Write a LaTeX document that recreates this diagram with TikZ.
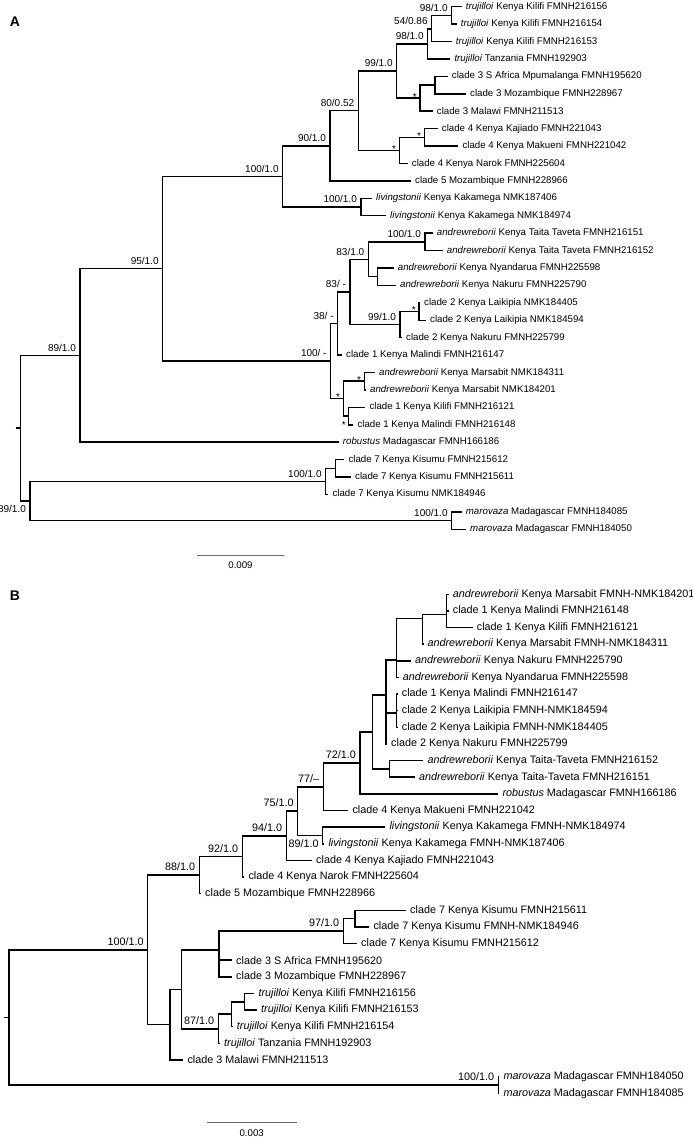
\documentclass[tikz,border=0pt]{standalone}
\usepackage{fontspec}
\setmainfont{Liberation Sans}
\usepackage{tikz}

\tikzset{
  branch/.style={line width=1.55pt},
  leaf/.style={font=\fontsize{9.7}{11}\selectfont, inner sep=2pt},
  support/.style={font=\fontsize{10}{12}\selectfont, inner sep=2.5pt},
  astx/.style={font=\fontsize{10}{12}\selectfont, inner sep=1pt, yshift=1.5pt},
  leafb/.style={font=\fontsize{10.8}{13}\selectfont, inner sep=2pt},
  supportb/.style={font=\fontsize{10.8}{13}\selectfont, inner sep=2.5pt},
  scalebar/.style={line width=1pt, black!60},
  panel/.style={font=\bfseries\fontsize{14}{16}\selectfont}
}

\begin{document}
\begin{tikzpicture}[x=1pt, y=-1pt, label distance=2pt]
\useasboundingbox (0,0) rectangle (693,1140);
\clip (0,0) rectangle (693,1140);
% panel A
\node [panel] (pA) at (15,22) {A};
% A leaves
\coordinate [label={[leaf]right:{\textit{trujilloi} Kenya Kilifi FMNH216156}}] (a1) at (461.7,6.7);
\coordinate [label={[leaf]right:{\textit{trujilloi} Kenya Kilifi FMNH216154}}] (a2) at (456.7,24.1);
\coordinate [label={[leaf]right:{\textit{trujilloi} Kenya Kilifi FMNH216153}}] (a3) at (451.7,41.5);
\coordinate [label={[leaf]right:{\textit{trujilloi} Tanzania FMNH192903}}] (a4) at (450.3,59.0);
\coordinate [label={[leaf]right:{clade 3 S Africa Mpumalanga FMNH195620}}] (a5) at (447.7,76.4);
\coordinate [label={[leaf]right:{clade 3 Mozambique FMNH228967}}] (a6) at (466,93.8);
\coordinate [label={[leaf]right:{clade 3 Malawi FMNH211513}}] (a7) at (432.7,111.2);
\coordinate [label={[leaf]right:{clade 4 Kenya Kajiado FMNH221043}}] (a8) at (437.7,128.6);
\coordinate [label={[leaf]right:{clade 4 Kenya Makueni FMNH221042}}] (a9) at (458.3,146.1);
\coordinate [label={[leaf]right:{clade 4 Kenya Narok FMNH225604}}] (a10) at (407.7,163.5);
\coordinate [label={[leaf]right:{clade 5 Mozambique FMNH228966}}] (a11) at (411,180.9);
\coordinate [label={[leaf]right:{\textit{livingstonii} Kenya Kakamega NMK187406}}] (a12) at (372,198.3);
\coordinate [label={[leaf]right:{\textit{livingstonii} Kenya Kakamega NMK184974}}] (a13) at (386,215.7);
\coordinate [label={[leaf]right:{\textit{andrewreborii} Kenya Taita Taveta FMNH216151}}] (a14) at (432.7,233.2);
\coordinate [label={[leaf]right:{\textit{andrewreborii} Kenya Taita Taveta FMNH216152}}] (a15) at (442.7,250.6);
\coordinate [label={[leaf]right:{\textit{andrewreborii} Kenya Nyandarua FMNH225598}}] (a16) at (393.7,268.0);
\coordinate [label={[leaf]right:{\textit{andrewreborii} Kenya Nakuru FMNH225790}}] (a17) at (396,285.4);
\coordinate [label={[leaf]right:{clade 2 Kenya Laikipia NMK184405}}] (a18) at (420,302.8);
\coordinate [label={[leaf]right:{clade 2 Kenya Laikipia NMK184594}}] (a19) at (426,320.3);
\coordinate [label={[leaf]right:{clade 2 Kenya Nakuru FMNH225799}}] (a20) at (402,337.7);
\coordinate [label={[leaf]right:{clade 1 Kenya Malindi FMNH216147}}] (a21) at (342,355.1);
\coordinate [label={[leaf]right:{\textit{andrewreborii} Kenya Marsabit NMK184311}}] (a22) at (375,372.5);
\coordinate [label={[leaf]right:{\textit{andrewreborii} Kenya Marsabit NMK184201}}] (a23) at (366,389.9);
\coordinate [label={[leaf]right:{clade 1 Kenya Kilifi FMNH216121}}] (a24) at (365.3,407.3);
\coordinate [label={[leaf]right:{clade 1 Kenya Malindi FMNH216148}}] (a25) at (353.3,424.8);
\coordinate [label={[leaf]right:{\textit{robustus} Madagascar FMNH166186}}] (a26) at (338.7,442.2);
\coordinate [label={[leaf]right:{clade 7 Kenya Kisumu FMNH215612}}] (a27) at (344.3,459.6);
\coordinate [label={[leaf]right:{clade 7 Kenya Kisumu FMNH215611}}] (a28) at (351,477.0);
\coordinate [label={[leaf]right:{clade 7 Kenya Kisumu NMK184946}}] (a29) at (328.3,494.4);
\coordinate [label={[leaf]right:{\textit{marovaza} Madagascar FMNH184085}}] (a30) at (461.7,511.8);
\coordinate [label={[leaf]right:{\textit{marovaza} Madagascar FMNH184050}}] (a31) at (466,529.3);
% A inner nodes
\coordinate (naS) at (15.5,428.2);
\coordinate (naR) at (20.7,428.2);
\coordinate [label={[support]above left:{89/1.0}}] (na89) at (80,355.45);
\coordinate [label={[support]above left:{95/1.0}}] (na95) at (162.7,268.7);
\coordinate [label={[support]above left:{100/1.0}}] (na100) at (282.7,176.35);
\coordinate [label={[support]above left:{90/1.0}}] (na90) at (330,145.8);
\coordinate [label={[support]above left:{80/0.52}}] (na80) at (358.3,110.7);
\coordinate [label={[support]above left:{99/1.0}}] (na99) at (396.7,71.0);
\coordinate [label={[support]above left:{98/1.0}}] (na98) at (427.7,43.9);
\coordinate [label={[support]above left:{54/0.86}}] (na54) at (431.7,28.8);
\coordinate [label={[support]above left:{98/1.0}}] (na98t) at (451.7,15.4);
\coordinate [label={[astx]left:{*}}] (nac3) at (420,98.2);
\coordinate (nac3i) at (435,85.1);
\coordinate [label={[astx]left:{*}}] (nac4) at (399.3,150.4);
\coordinate [label={[astx]left:{*}}] (nac4i) at (424.3,137.35);
\coordinate [label={[support]above left:{100/1.0}}] (naliv) at (361,207.0);
\coordinate [label={[support]above left:{100/ -}}] (na100m) at (330.7,361.05);
\coordinate [label={[support]above left:{38/ -}}] (na38) at (337.7,323.5);
\coordinate [label={[support]above left:{83/ -}}] (na83) at (350,291.95);
\coordinate [label={[support]above left:{83/1.0}}] (na83t) at (368.3,259.3);
\coordinate [label={[support]above left:{100/1.0}}] (na100t) at (425,241.9);
\coordinate (nanya) at (377.7,276.7);
\coordinate [label={[support]above left:{99/1.0}}] (na99c2) at (400,324.6);
\coordinate [label={[astx]left:{*}}] (nac2) at (419,311.55);
\coordinate [label={[astx]left:{*}}] (nast) at (343.3,398.6);
\coordinate [label={[astx]left:{*}}] (namar) at (364.3,381.2);
\coordinate [label={[astx,yshift=-4pt]below left:{*}}] (nacl1) at (348.3,416.05);
\coordinate [label={[support]below left:{89/1.0}}] (naout) at (30,500.95);
\coordinate [label={[support]above left:{100/1.0}}] (na7) at (325.7,481.35);
\coordinate (na7i) at (335.7,468.3);
\coordinate [label={[support]above left:{100/1.0}}] (namv) at (451.7,520.55);
% A branches
\draw [branch] (naS) -- (naR);
\draw [branch] (naR) |- (na89) (naR) |- (naout);
\draw [branch] (na89) |- (na95) (na89) |- (a26);
\draw [branch] (na95) |- (na100) (na95) |- (na100m);
\draw [branch] (na100) |- (na90) (na100) |- (naliv);
\draw [branch] (na90) |- (na80) (na90) |- (a11);
\draw [branch] (na80) |- (na99) (na80) |- (nac4);
\draw [branch] (na99) |- (na98) (na99) |- (nac3);
\draw [branch] (na98) |- (na54) (na98) |- (a4);
\draw [branch] (na54) |- (na98t) (na54) |- (a3);
\draw [branch] (na98t) |- (a1) (na98t) |- (a2);
\draw [branch] (nac3) |- (nac3i) (nac3) |- (a7);
\draw [branch] (nac3i) |- (a5) (nac3i) |- (a6);
\draw [branch] (nac4) |- (nac4i) (nac4) |- (a10);
\draw [branch] (nac4i) |- (a8) (nac4i) |- (a9);
\draw [branch] (naliv) |- (a12) (naliv) |- (a13);
\draw [branch] (na100m) |- (na38) (na100m) |- (nast);
\draw [branch] (na38) |- (na83) (na38) |- (a21);
\draw [branch] (na83) |- (na83t) (na83) |- (na99c2);
\draw [branch] (na83t) |- (na100t) (na83t) |- (nanya);
\draw [branch] (na100t) |- (a14) (na100t) |- (a15);
\draw [branch] (nanya) |- (a16) (nanya) |- (a17);
\draw [branch] (na99c2) |- (nac2) (na99c2) |- (a20);
\draw [branch] (nac2) |- (a18) (nac2) |- (a19);
\draw [branch] (nast) |- (namar) (nast) |- (nacl1);
\draw [branch] (namar) |- (a22) (namar) |- (a23);
\draw [branch] (nacl1) |- (a24) (nacl1) |- (a25);
\draw [branch] (naout) |- (na7) (naout) |- (namv);
\draw [branch] (na7) |- (na7i) (na7) |- (a29);
\draw [branch] (na7i) |- (a27) (na7i) |- (a28);
\draw [branch] (namv) |- (a30) (namv) |- (a31);
% A scale
\coordinate (sa1) at (196.7,555);
\coordinate (sa2) at (284.3,555);
\draw [scalebar] (sa1) -- (sa2);
\node [leaf] (sal) at (240.5,565) {0.009};

% panel B
\node [panel] (pB) at (15,596) {B};
% B leaves
\coordinate [label={[leafb]right:{\textit{andrewreborii} Kenya Marsabit FMNH-NMK184201}}] (b1) at (448.7,594.3);
\coordinate [label={[leafb]right:{clade 1 Kenya Malindi FMNH216148}}] (b2) at (448.7,610.9);
\coordinate [label={[leafb]right:{clade 1 Kenya Kilifi FMNH216121}}] (b3) at (472.7,627.6);
\coordinate [label={[leafb]right:{\textit{andrewreborii} Kenya Marsabit FMNH-NMK184311}}] (b4) at (423.3,644.2);
\coordinate [label={[leafb]right:{\textit{andrewreborii} Kenya Nakuru FMNH225790}}] (b5) at (411,660.8);
\coordinate [label={[leafb]right:{\textit{andrewreborii} Kenya Nyandarua FMNH225598}}] (b6) at (398.7,677.5);
\coordinate [label={[leafb]right:{clade 1 Kenya Malindi FMNH216147}}] (b7) at (397.7,694.1);
\coordinate [label={[leafb]right:{clade 2 Kenya Laikipia FMNH-NMK184594}}] (b8) at (397.7,710.7);
\coordinate [label={[leafb]right:{clade 2 Kenya Laikipia FMNH-NMK184405}}] (b9) at (397.7,727.3);
\coordinate [label={[leafb]right:{clade 2 Kenya Nakuru FMNH225799}}] (b10) at (387,744.0);
\coordinate [label={[leafb]right:{\textit{andrewreborii} Kenya Taita-Taveta FMNH216152}}] (b11) at (423.3,760.6);
\coordinate [label={[leafb]right:{\textit{andrewreborii} Kenya Taita-Taveta FMNH216151}}] (b12) at (415,777.2);
\coordinate [label={[leafb]right:{\textit{robustus} Madagascar FMNH166186}}] (b13) at (498.3,793.9);
\coordinate [label={[leafb]right:{clade 4 Kenya Makueni FMNH221042}}] (b14) at (348.3,810.5);
\coordinate [label={[leafb]right:{\textit{livingstonii} Kenya Kakamega FMNH-NMK184974}}] (b15) at (385.3,827.1);
\coordinate [label={[leafb]right:{\textit{livingstonii} Kenya Kakamega FMNH-NMK187406}}] (b16) at (324.3,843.8);
\coordinate [label={[leafb]right:{clade 4 Kenya Kajiado FMNH221043}}] (b17) at (312,860.4);
\coordinate [label={[leafb]right:{clade 4 Kenya Narok FMNH225604}}] (b18) at (244.3,877.0);
\coordinate [label={[leafb]right:{clade 5 Mozambique FMNH228966}}] (b19) at (201,893.6);
\coordinate [label={[leafb]right:{clade 7 Kenya Kisumu FMNH215611}}] (b20) at (406,910.3);
\coordinate [label={[leafb]right:{clade 7 Kenya Kisumu FMNH-NMK184946}}] (b21) at (369.3,926.9);
\coordinate [label={[leafb]right:{clade 7 Kenya Kisumu FMNH215612}}] (b22) at (357,943.5);
\coordinate [label={[leafb]right:{clade 3 S Africa FMNH195620}}] (b23) at (232,960.2);
\coordinate [label={[leafb]right:{clade 3 Mozambique FMNH228967}}] (b24) at (232,976.8);
\coordinate [label={[leafb]right:{\textit{trujilloi} Kenya Kilifi FMNH216156}}] (b25) at (254.3,993.4);
\coordinate [label={[leafb]right:{\textit{trujilloi} Kenya Kilifi FMNH216153}}] (b26) at (257,1010.1);
\coordinate [label={[leafb]right:{\textit{trujilloi} Kenya Kilifi FMNH216154}}] (b27) at (232.7,1026.7);
\coordinate [label={[leafb]right:{\textit{trujilloi} Tanzania FMNH192903}}] (b28) at (220,1043.3);
\coordinate [label={[leafb]right:{clade 3 Malawi FMNH211513}}] (b29) at (183.3,1059.9);
\coordinate [label={[leafb]right:{\textit{marovaza} Madagascar FMNH184050}}] (b30) at (499.3,1076.6);
\coordinate [label={[leafb]right:{\textit{marovaza} Madagascar FMNH184085}}] (b31) at (499.3,1093.2);
% B inner nodes
\coordinate (nbS) at (4,1017.35);
\coordinate (nbR) at (9,1017.35);
\coordinate [label={[supportb]above left:{100/1.0}}] (nb100) at (147.7,949.8);
\coordinate [label={[supportb]above left:{88/1.0}}] (nb88) at (199.3,875.0);
\coordinate [label={[supportb]above left:{92/1.0}}] (nb92) at (242.3,856.4);
\coordinate [label={[supportb]above left:{94/1.0}}] (nb94) at (286.3,835.75);
\coordinate [label={[supportb]above left:{75/1.0}}] (nb75) at (297.7,811.1);
\coordinate [label={[supportb]above left:{77/–}}] (nb77) at (323.3,786.75);
\coordinate [label={[supportb]above left:{72/1.0}}] (nb72) at (360,763.0);
\coordinate [label={[supportb]below left:{89/1.0}}] (nbliv) at (322.7,835.45);
\coordinate (nb7) at (372.7,732.15);
\coordinate (nb5) at (386,695.0);
\coordinate (nb3) at (396.7,660.0);
\coordinate (nb4) at (396.7,713.0);
\coordinate (nb2) at (422.7,618.5);
\coordinate (nb1) at (446.7,614.5);
\coordinate (nb6) at (389.3,768.9);
\coordinate (nb170) at (170,1024.6);
\coordinate (nb181) at (181.7,989.3);
\coordinate (nbc3) at (219,949.8);
\coordinate [label={[supportb]above left:{97/1.0}}] (nb97) at (343.3,931.05);
\coordinate (nbc7) at (355,918.6);
\coordinate [label={[supportb]above left:{87/1.0}}] (nb87) at (218.3,1028.75);
\coordinate (nbt1) at (231.7,1014.2);
\coordinate (nbt2) at (244.3,1001.75);
\coordinate [label={[supportb]above left:{100/1.0}}] (nbmv) at (498.3,1084.9);
% B branches
\draw [branch] (nbS) -- (nbR);
\draw [branch] (nbR) |- (nb100) (nbR) |- (nbmv);
\draw [branch] (nb100) |- (nb88) (nb100) |- (nb170);
\draw [branch] (nb88) |- (nb92) (nb88) |- (b19);
\draw [branch] (nb92) |- (nb94) (nb92) |- (b18);
\draw [branch] (nb94) |- (nb75) (nb94) |- (b17);
\draw [branch] (nb75) |- (nb77) (nb75) |- (nbliv);
\draw [branch] (nb77) |- (nb72) (nb77) |- (b14);
\draw [branch] (nb72) |- (nb7) (nb72) |- (b13);
\draw [branch] (nb7) |- (nb5) (nb7) |- (nb6);
\draw [branch] (nb5) |- (nb3) (nb5) |- (nb4) (nb5) |- (b10);
\draw [branch] (nb3) |- (nb2) (nb3) |- (b5) (nb3) |- (b6);
\draw [branch] (nb2) |- (nb1) (nb2) |- (b4);
\draw [branch] (nb1) |- (b1) (nb1) |- (b2) (nb1) |- (b3);
\draw [branch] (nb4) |- (b7) (nb4) |- (b8) (nb4) |- (b9);
\draw [branch] (nb6) |- (b11) (nb6) |- (b12);
\draw [branch] (nbliv) |- (b15) (nbliv) |- (b16);
\draw [branch] (nb170) |- (nb181) (nb170) |- (b29);
\draw [branch] (nb181) |- (nbc3) (nb181) |- (nb87);
\draw [branch] (nbc3) |- (nb97) (nbc3) |- (b23) (nbc3) |- (b24);
\draw [branch] (nb97) |- (nbc7) (nb97) |- (b22);
\draw [branch] (nbc7) |- (b20) (nbc7) |- (b21);
\draw [branch] (nb87) |- (nbt1) (nb87) |- (b28);
\draw [branch] (nbt1) |- (nbt2) (nbt1) |- (b27);
\draw [branch] (nbt2) |- (b25) (nbt2) |- (b26);
\draw [branch] (nbmv) |- (b30) (nbmv) |- (b31);
% B scale
\coordinate (sb1) at (206.7,1122.3);
\coordinate (sb2) at (296.7,1122.3);
\draw [scalebar] (sb1) -- (sb2);
\node [leaf] (sbl) at (251.7,1133.3) {0.003};
\end{tikzpicture}
\end{document}
